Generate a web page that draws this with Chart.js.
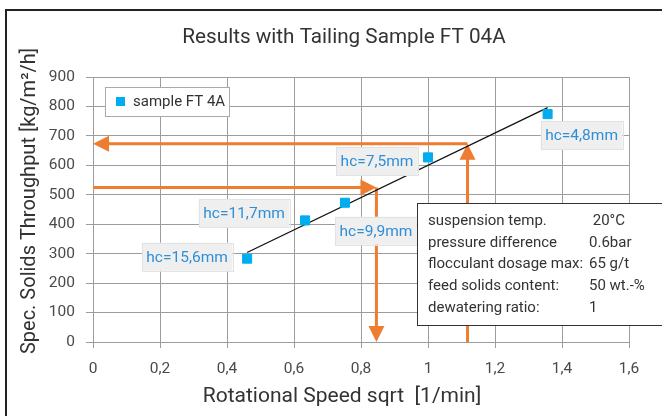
<!DOCTYPE html>
<html>
<head>
<meta charset="utf-8">
<script src="https://cdn.jsdelivr.net/npm/chart.js@4.4.1/dist/chart.umd.min.js"></script>
<style>
  html, body { margin: 0; padding: 0; background: #fff; }
  #wrap { width: 662px; height: 416px; position: relative; }
</style>
</head>
<body>
<div id="wrap"><canvas id="graf"></canvas></div>
<script>
// ---------- dados ----------
const titleText = "Results with Tailing Sample FT 04A";
const xTitle = "Rotational Speed sqrt  [1/min]";
const yTitle = "Spec. Solids Throughput [kg/m²/h]";
const seriesName = "sample FT 4A";

const speedX = [0.46, 0.633, 0.752, 1.0, 1.357];
const throughputY = [283, 413, 473, 627, 774];
const hcLabels = ["hc=15,6mm", "hc=11,7mm", "hc=9,9mm", "hc=7,5mm", "hc=4,8mm"];

const trendX = [0.46, 1.357];
const trendY = [304, 796];

const xTickLabels = ["0", "0,2", "0,4", "0,6", "0,8", "1", "1,2", "1,4", "1,6"];
const yTickLabels = ["0", "100", "200", "300", "400", "500", "600", "700", "800", "900"];

// reading arrows (data coords)
const arrowFromX = [1.118, 1.118, 0, 0.846];
const arrowFromY = [0, 673, 525, 525];
const arrowToX = [1.118, 0, 0.846, 0.846];
const arrowToY = [673, 673, 525, 0];

const infoNames = ["suspension temp.", "pressure difference", "flocculant dosage max:", "feed solids content:", "dewatering ratio:"];
const infoValues = [" 20°C", "0.6bar", "65 g/t", "50 wt.-%", "1"];

// ---------- estilo ----------
const FONT = "Roboto";
const BLUE = "#00aeef";
const ORANGE = "#ef7d31";
const GRID = "#9c9c9c";
// label offsets from their point, in px
const labelOffsets = [[-60, -2], [-61, -7], [31, 28], [-51, 4], [34, 21]];

// ---------- plugin de desenho ----------
const extras = {
  id: "extras",
  beforeDraw(chart) {
    const ctx = chart.ctx;
    ctx.save();
    // frame
    ctx.strokeStyle = "#222";
    ctx.lineWidth = 2;
    ctx.beginPath();
    ctx.moveTo(6, 416);
    ctx.lineTo(6, 10);
    ctx.lineTo(662, 10);
    ctx.stroke();
    // titles
    ctx.fillStyle = "#333";
    ctx.textAlign = "center";
    ctx.textBaseline = "middle";
    ctx.font = `20.7px ${FONT}`;
    ctx.fillText(titleText, 344, 38);
    ctx.font = `21px ${FONT}`;
    ctx.fillText(xTitle, 342, 397);
    ctx.font = `20px ${FONT}`;
    ctx.translate(30, 201);
    ctx.rotate(-Math.PI / 2);
    ctx.fillText(yTitle, 0, 0);
    ctx.restore();
  },
  beforeDatasetsDraw(chart) {
    const ctx = chart.ctx;
    const xs = chart.scales.x, ys = chart.scales.y;
    ctx.save();
    ctx.strokeStyle = ORANGE;
    ctx.fillStyle = ORANGE;
    ctx.lineWidth = 3;
    const headLen = 16, headHalf = 8;
    for (let i = 0; i < arrowFromX.length; i++) {
      const x0 = xs.getPixelForValue(arrowFromX[i]);
      const y0 = ys.getPixelForValue(arrowFromY[i]);
      const x1 = xs.getPixelForValue(arrowToX[i]);
      const y1 = ys.getPixelForValue(arrowToY[i]);
      const len = Math.hypot(x1 - x0, y1 - y0);
      const dx = (x1 - x0) / len, dy = (y1 - y0) / len;
      ctx.beginPath();
      ctx.moveTo(x0, y0);
      ctx.lineTo(x1 - dx * headLen * 0.8, y1 - dy * headLen * 0.8);
      ctx.stroke();
      const bx = x1 - dx * headLen, by = y1 - dy * headLen;
      ctx.beginPath();
      ctx.moveTo(x1, y1);
      ctx.lineTo(bx - dy * headHalf, by + dx * headHalf);
      ctx.lineTo(bx + dy * headHalf, by - dx * headHalf);
      ctx.closePath();
      ctx.fill();
    }
    ctx.restore();
  },
  afterDatasetsDraw(chart) {
    const ctx = chart.ctx;
    const xs = chart.scales.x, ys = chart.scales.y;
    ctx.save();
    // hc labels
    ctx.font = `15.5px ${FONT}`;
    ctx.textAlign = "center";
    ctx.textBaseline = "middle";
    hcLabels.forEach((txt, i) => {
      const cx = xs.getPixelForValue(speedX[i]) + labelOffsets[i][0];
      const cy = ys.getPixelForValue(throughputY[i]) + labelOffsets[i][1];
      const w = ctx.measureText(txt).width + 9, h = 28;
      ctx.fillStyle = "#efefef";
      ctx.fillRect(cx - w / 2, cy - h / 2, w, h);
      ctx.strokeStyle = "#e2e2e2";
      ctx.lineWidth = 1;
      ctx.strokeRect(Math.round(cx - w / 2) + 0.5, Math.round(cy - h / 2) + 0.5, Math.round(w), h);
      ctx.fillStyle = "#2f8fd6";
      ctx.fillText(txt, cx, cy + 1);
    });

    // legend box
    ctx.font = `15px ${FONT}`;
    ctx.fillStyle = "#fff";
    ctx.fillRect(105, 87, 124, 29);
    ctx.strokeStyle = "#aaa";
    ctx.strokeRect(105.5, 87.5, 124, 29);
    ctx.fillStyle = BLUE;
    ctx.fillRect(116, 97, 9, 9);
    ctx.fillStyle = "#333";
    ctx.textAlign = "left";
    ctx.fillText(seriesName, 133, 102);

    // info box
    ctx.fillStyle = "#fff";
    ctx.fillRect(417, 203, 250, 122);
    ctx.strokeStyle = "#333";
    ctx.strokeRect(417.5, 203.5, 250, 122);
    ctx.fillStyle = "#333";
    infoNames.forEach((name, i) => {
      const y = 221 + i * 21.8;
      ctx.fillText(name, 428, y);
      ctx.fillText(infoValues[i], 589, y);
    });
    ctx.restore();
  },
};

// ---------- gráfico ----------
const canvas = document.getElementById("graf");
const chart = new Chart(canvas, {
  type: "scatter",
  data: {
    datasets: [
      {
        label: seriesName,
        data: speedX.map((x, i) => ({ x, y: throughputY[i] })),
        backgroundColor: BLUE,
        borderColor: BLUE,
        pointStyle: "rect",
        pointRadius: 6.4,
        pointHoverRadius: 6.4,
        order: 1,
      },
      {
        label: "trend",
        type: "line",
        data: trendX.map((x, i) => ({ x, y: trendY[i] })),
        borderColor: "#111",
        borderWidth: 1.3,
        pointRadius: 0,
        fill: false,
        order: 2,
      },
    ],
  },
  options: {
    responsive: true,
    maintainAspectRatio: false,
    animation: false,
    events: [],
    layout: { padding: { left: 0, top: 77, right: 33, bottom: 0 } },
    plugins: { legend: { display: false }, title: { display: false }, tooltip: { enabled: false } },
    scales: {
      x: {
        type: "linear",
        min: 0,
        max: 1.6,
        afterBuildTicks: (s) => { s.ticks = xTickLabels.map((_, i) => ({ value: i * 0.2 })); },
        afterFit: (s) => { s.height = 74; },
        ticks: {
          callback: (v, i) => xTickLabels[i],
          color: "#4a4a4a",
          font: { family: FONT, size: 15.5 },
          padding: 12,
        },
        grid: { color: GRID, lineWidth: 1, tickLength: 6 },
        border: { color: GRID },
      },
      y: {
        type: "linear",
        min: 0,
        max: 900,
        afterBuildTicks: (s) => { s.ticks = yTickLabels.map((_, i) => ({ value: i * 100 })); },
        afterFit: (s) => { s.width = 93; },
        ticks: {
          callback: (v, i) => yTickLabels[i],
          color: "#4a4a4a",
          font: { family: FONT, size: 15.5 },
          padding: 11,
        },
        grid: { color: GRID, lineWidth: 1, tickLength: 7 },
        border: { color: GRID },
      },
    },
  },
  plugins: [extras],
});
</script>
</body>
</html>
